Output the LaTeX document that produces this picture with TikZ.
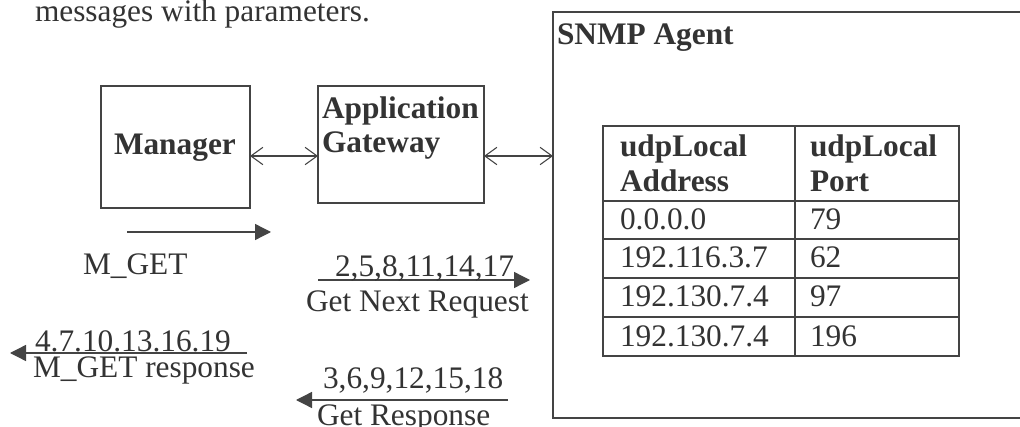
\documentclass[tikz,border=0pt]{standalone}
\usepackage{fontspec}
\setmainfont{Liberation Serif}
\usetikzlibrary{arrows.meta,fit}
\definecolor{ink}{HTML}{333333}
\definecolor{rule}{HTML}{444444}
\begin{document}
\begin{tikzpicture}[x=0.75pt,y=-0.75pt,
  every node/.style={inner sep=0pt,outer sep=0pt,text=ink,
    font=\fontsize{23.5}{25.5}\selectfont},
  txt/.style={anchor=base west},
  bold/.style={anchor=base west,font=\fontsize{23.5}{25.5}\selectfont\bfseries},
  frame/.style={draw=rule,line width=0.9pt,inner sep=0pt},
  grid/.style={draw=rule,line width=0.9pt},
  dbl/.style={draw=rule,line width=0.8pt,
    {Straight Barb[length=9pt,width=13pt]}-{Straight Barb[length=9pt,width=13pt]}},
  msg/.style={draw=rule,line width=1pt,-{Triangle[length=12pt,width=12pt]}}]

\useasboundingbox (0,0) rectangle (1020,427);
\fill[white] (0,0) rectangle (1020,427);

% caption line above the diagram
\node[txt] (cap) at (35,22) {messages with parameters.};

% boxes
\node[frame,fit={(101,86) (250,208)}] (manager) {};
\node[frame,fit={(318,86) (484,203)}] (gateway) {};
\node[frame,fit={(553,12) (1030,418)}] (agent) {};

\node[bold] (managerlbl) at (114,155) {Manager};
\node[bold] (gwlbl1) at (322,119) {Application};
\node[bold] (gwlbl2) at (322,153) {Gateway};
\node[bold] (agentlbl) at (557,45) {SNMP Agent};

% links between the boxes
\coordinate (row) at (0,156);
\draw[dbl] (manager.east |- row) -- (gateway.west |- row);
\draw[dbl] (gateway.east |- row) -- (agent.west |- row);

% udp table
\node[frame,fit={(603,126) (959,356)}] (table) {};
\draw[grid] (795,126) -- (795,356);
\foreach \yy in {201,239,278,317}
  \draw[grid] (603,\yy) -- (959,\yy);

\node[bold] (h1a) at (620,157) {udpLocal};
\node[bold] (h1b) at (620,192) {Address};
\node[bold] (h2a) at (810,157) {udpLocal};
\node[bold] (h2b) at (810,192) {Port};

\node[txt] (r1a) at (620,230) {0.0.0.0};
\node[txt] (r1b) at (810,230) {79};
\node[txt] (r2a) at (620,268) {192.116.3.7};
\node[txt] (r2b) at (810,268) {62};
\node[txt] (r3a) at (620,307) {192.130.7.4};
\node[txt] (r3b) at (810,307) {97};
\node[txt] (r4a) at (620,346) {192.130.7.4};
\node[txt] (r4b) at (810,346) {196};

% message arrows
\coordinate (mget-a) at (127,232);
\coordinate (mget-b) at (271,232);
\draw[msg] (mget-a) -- (mget-b);
\node[txt] (mget) at (83,275) {M\_GET};

\coordinate (req-a) at (318,280);
\coordinate (req-b) at (530,280);
\draw[msg] (req-a) -- (req-b);
\node[txt] (reqnum) at (335,277) {2,5,8,11,14,17};
\node[txt] (req) at (306,312) {Get Next Request};

\coordinate (mresp-a) at (247,353);
\coordinate (mresp-b) at (10,353);
\draw[msg] (mresp-a) -- (mresp-b);
\node[txt] (mrespnum) at (35,351) {4.7.10.13.16.19};
\node[txt] (mresp) at (33,377) {M\_GET response};

\coordinate (gresp-a) at (508,400);
\coordinate (gresp-b) at (296,400);
\draw[msg] (gresp-a) -- (gresp-b);
\node[txt] (grespnum) at (323,388) {3,6,9,12,15,18};
\node[txt] (gresp) at (317,425) {Get Response};
\end{tikzpicture}
\end{document}
